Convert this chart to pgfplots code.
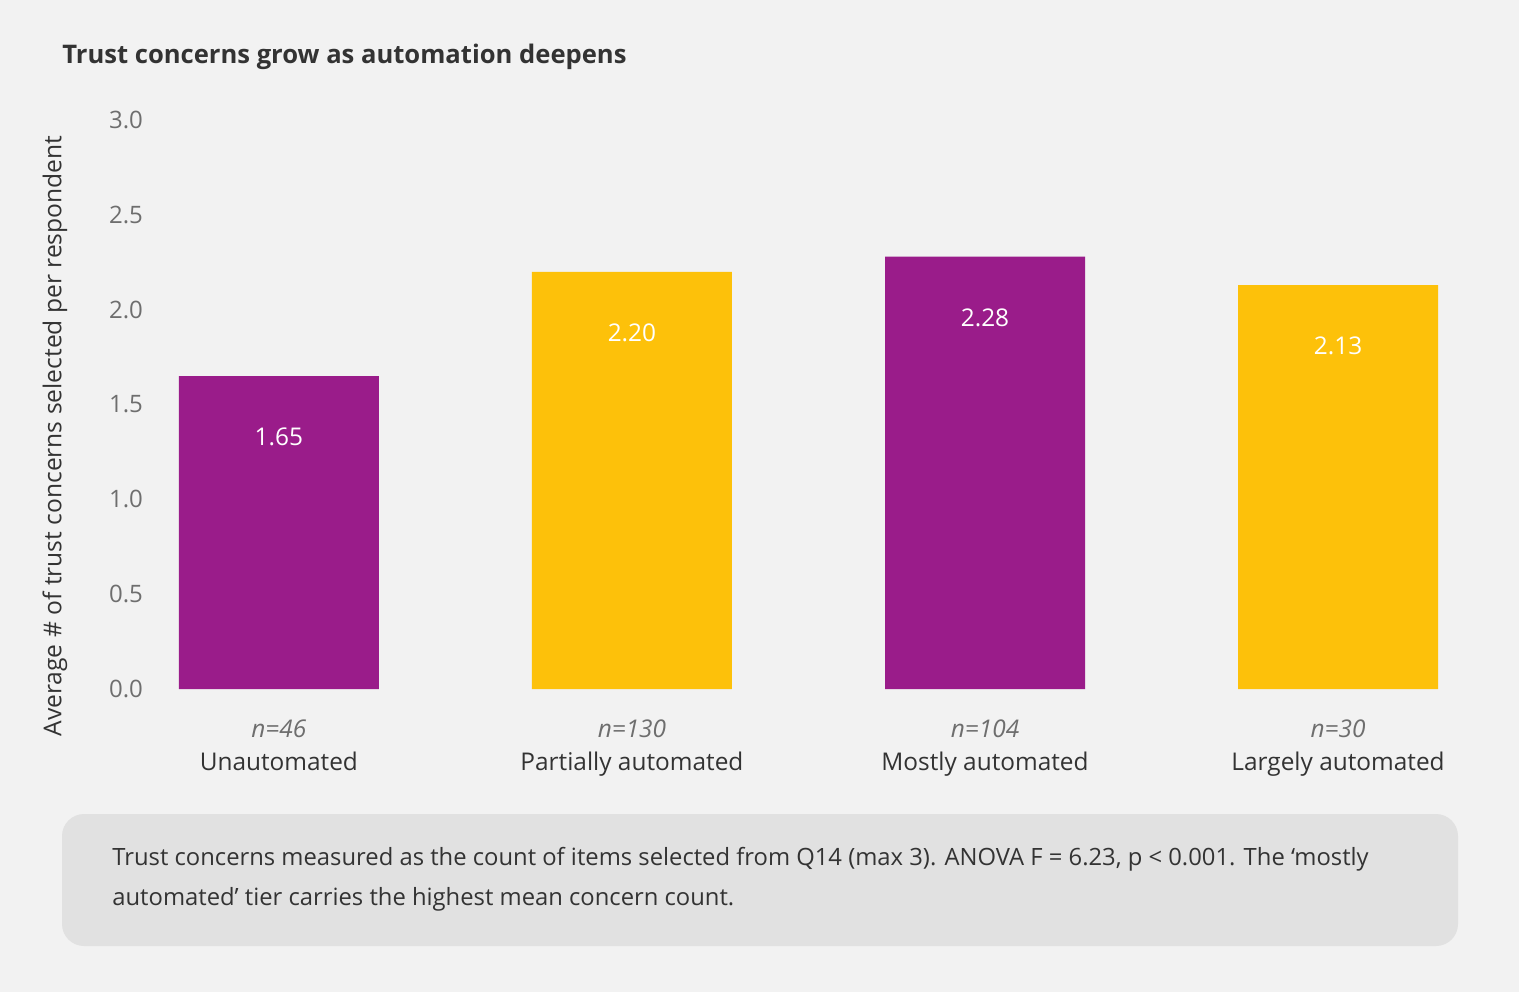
\documentclass[border=0pt]{standalone}
\usepackage{pgfplots}
\pgfplotsset{compat=1.18}
\usepackage{fontspec}
\setmainfont{Open Sans}

\definecolor{bgc}{HTML}{F2F2F2}
\definecolor{boxc}{HTML}{E1E1E1}
\definecolor{purp}{HTML}{9A1C8A}
\definecolor{gold}{HTML}{FDC10A}
\definecolor{ink}{HTML}{333333}
\definecolor{tickc}{HTML}{6E6E6E}

\begin{document}
\begin{tikzpicture}[x=0.5pt,y=-0.5pt]
  % canvas, 1 px = 0.5 pt
  \fill[bgc] (0,0) rectangle (1519,992);
  \node[anchor=base west, inner sep=0, text=ink,
        font=\bfseries\fontsize{12.8}{15}\selectfont] at (62,63)
        {Trust concerns grow as automation deepens};
  \node[rotate=90, inner sep=0, text=ink,
        font=\fontsize{12.3}{14}\selectfont] at (55,436)
        {Average \# of trust concerns selected per respondent};

  \begin{axis}[
      at={(75pt,-344.5pt)}, anchor=south west,
      scale only axis,
      width=665pt, height=284.5pt,
      xmin=-0.365, xmax=3.402,
      ymin=0, ymax=3,
      clip=false,
      axis line style={draw=none},
      major tick length=0pt,
      ybar, bar width=100pt, bar shift=0pt,
      ytick={0,0.5,...,3},
      yticklabel style={text=tickc, font=\fontsize{12}{14}\selectfont,
        /pgf/number format/assume math mode=true,
        /pgf/number format/fixed, /pgf/number format/fixed zerofill,
        /pgf/number format/precision=1},
      xtick={0,1,2,3},
      xticklabels={
        {{\color{tickc}\itshape n=46}\\Unautomated},
        {{\color{tickc}\itshape n=130}\\Partially automated},
        {{\color{tickc}\itshape n=104}\\Mostly automated},
        {{\color{tickc}\itshape n=30}\\Largely automated}},
      xticklabel style={align=center, text=ink, yshift=-12pt,
        font=\fontsize{12.2}{16.5}\selectfont},
      nodes near coords,
      every node near coord/.append style={anchor=center, yshift=-30.5pt,
        text=white, font=\fontsize{12.2}{14}\selectfont,
        /pgf/number format/assume math mode=true,
        /pgf/number format/fixed, /pgf/number format/fixed zerofill,
        /pgf/number format/precision=2},
    ]
    \addplot[fill=purp, draw=none] coordinates {(0,1.65) (2,2.28)};
    \addplot[fill=gold, draw=none] coordinates {(1,2.20) (3,2.13)};
  \end{axis}

  \fill[boxc, rounded corners=11pt] (62,814) rectangle (1458,946);
  \node[anchor=base west, inner sep=0, text=ink, align=left,
        font=\fontsize{11.9}{20}\selectfont] at (112,905)
        {Trust concerns measured as the count of items selected from Q14 (max 3). ANOVA F = 6.23, p < 0.001. The ‘mostly\\
         automated’ tier carries the highest mean concern count.};
\end{tikzpicture}
\end{document}
